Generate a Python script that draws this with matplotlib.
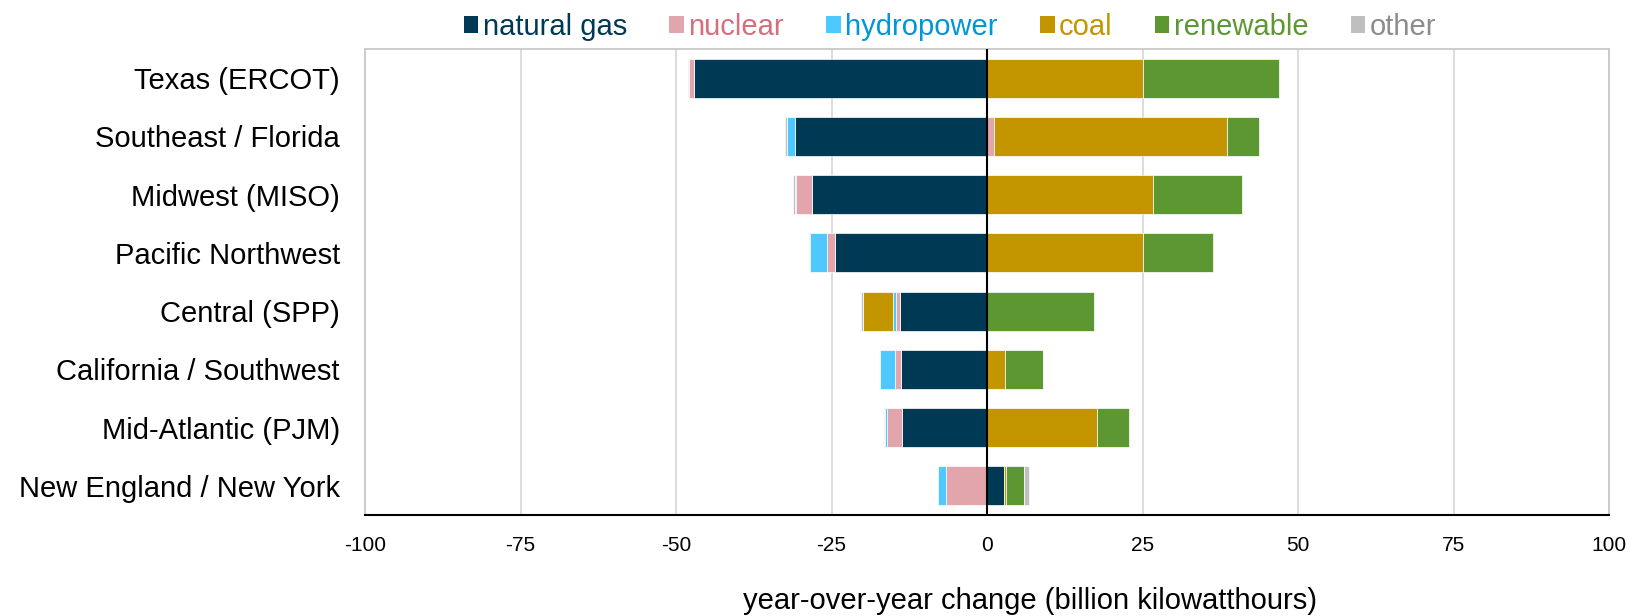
# Year-over-year change in electricity generation by region and fuel

import numpy as np
import matplotlib.pyplot as plt
from matplotlib.patches import Patch

plt.rcParams['font.family'] = ['Liberation Sans', 'DejaVu Sans']
plt.rcParams['axes.unicode_minus'] = False

# Data (billion kilowatthours, change vs. previous year)
regions = [
    "Texas (ERCOT)",
    "Southeast / Florida",
    "Midwest (MISO)",
    "Pacific Northwest",
    "Central (SPP)",
    "California / Southwest",
    "Mid-Atlantic (PJM)",
    "New England / New York",
]
natural_gas = [-47.1, -30.9, -28.1, -24.5, -14.0, -13.9, -13.6, 2.8]
nuclear = [-0.8, 1.2, -2.6, -1.3, -0.6, -0.9, -2.5, -6.6]
hydropower = [0.0, -1.2, -0.2, -2.7, -0.5, -2.4, -0.3, -1.3]
coal = [25.0, 37.4, 26.7, 25.1, -4.9, 2.9, 17.7, 0.2]
renewable = [21.9, 5.2, 14.3, 11.2, 17.2, 6.1, 5.1, 3.0]
other = [-0.1, -0.3, -0.3, -0.1, -0.2, 0.0, -0.1, 0.8]

fuels = ["natural gas", "nuclear", "hydropower", "coal", "renewable", "other"]
series = [natural_gas, nuclear, hydropower, coal, renewable, other]
bar_colors = ["#003953", "#e2a5ab", "#4dc9ff", "#c39600", "#5d9732", "#bfbfbf"]
text_colors = ["#003953", "#d86d7c", "#0096d7", "#c39600", "#5d9732", "#8c8c8c"]

fig = plt.figure(figsize=(16.32, 6.16), dpi=100)
ax = fig.add_axes([365 / 1632, 1 - 515 / 616, 1244 / 1632, 466 / 616])

y = np.arange(len(regions))
pos_base = np.zeros(len(regions))
neg_base = np.zeros(len(regions))
for vals, col in zip(series, bar_colors):
    v = np.array(vals)
    left = np.where(v >= 0, pos_base, neg_base)
    ax.barh(y, v, left=left, height=0.667, color=col,
            edgecolor="white", linewidth=0.5, zorder=3)
    pos_base += np.where(v >= 0, v, 0)
    neg_base += np.where(v < 0, v, 0)

ax.axvline(0, color="black", linewidth=1.5, zorder=4)

ax.set_xlim(-100, 100)
ax.set_ylim(len(regions) - 0.5, -0.5)
ax.set_xticks([-100, -75, -50, -25, 0, 25, 50, 75, 100])
ax.set_yticks(y)
ax.set_yticklabels(regions, fontsize=21)
ax.tick_params(axis="y", length=0, pad=18)
ax.tick_params(axis="x", length=0, pad=15, labelsize=15)

ax.grid(axis="x", color="#d9d9d9", linewidth=1.3, zorder=0)
ax.set_axisbelow(True)
for side in ["top", "right", "left"]:
    ax.spines[side].set_color("#c8c8c8")
    ax.spines[side].set_linewidth(1.3)
ax.spines["bottom"].set_color("black")
ax.spines["bottom"].set_linewidth(1.5)

fig.text(1030 / 1632, 1 - 601 / 616, "year-over-year change (billion kilowatthours)",
         ha="center", va="center", fontsize=21)

handles = [Patch(facecolor=c) for c in bar_colors]
fig.legend(handles, fuels, loc="center", bbox_to_anchor=(950 / 1632, 1 - 27 / 616),
           ncol=6, frameon=False, fontsize=21, labelcolor=text_colors,
           handlelength=0.5, handleheight=0.5, handletextpad=0.15,
           columnspacing=1.45, borderpad=0)

plt.savefig("out.png")
